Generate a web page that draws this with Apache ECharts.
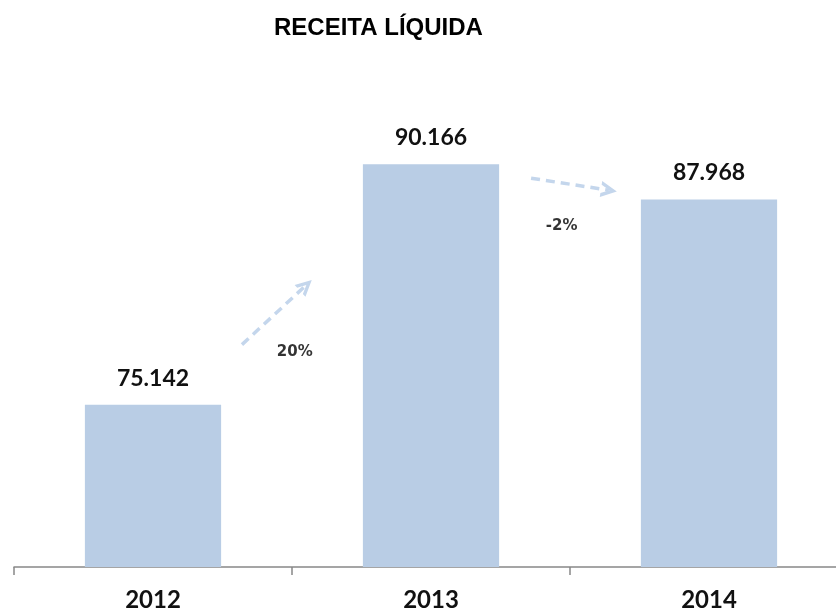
<!DOCTYPE html>
<html>
<head>
<meta charset="utf-8">
<script src="https://cdn.jsdelivr.net/npm/echarts@6/dist/echarts.min.js"></script>
<style>
  html, body { margin: 0; padding: 0; background: #fff; overflow: hidden; }
  #chart { width: 848px; height: 612px; }
</style>
</head>
<body>
<div id="chart"></div>
<script>
// dados do gráfico
const years = ['2012', '2013', '2014'];
const receita = [75.142, 90.166, 87.968];
const growthText = ['20%', '-2%'];
// setas de variação, em unidades do gráfico: [x0, y0, x1, y1]
const arrows = [
  [0.32, 78.9, 0.55, 82.6],
  [1.36, 89.3, 1.64, 88.55]
];
// posição dos rótulos de variação [x, y]
const growthPos = [
  [0.51, 78.4],
  [1.47, 86.3]
];

const barColor = '#B9CDE5';
const chart = echarts.init(document.getElementById('chart'));

const fmt = v => v.toFixed(3);

const option = {
  animation: false,
  title: {
    text: 'RECEITA LÍQUIDA',
    left: 269,
    top: 11,
    textStyle: {
      fontFamily: 'Liberation Sans, Arial',
      fontWeight: 'bold',
      fontSize: 24,
      color: '#000'
    }
  },
  grid: { left: 14, right: 0, top: 87, bottom: 44 },
  xAxis: [{
    type: 'category',
    data: years,
    axisLine: { lineStyle: { color: '#888', width: 1.5 } },
    axisTick: { show: true, length: 8, lineStyle: { color: '#888', width: 1.5 } },
    axisLabel: {
      margin: 21,
      fontFamily: 'Lato',
      fontWeight: 'bold',
      fontSize: 24,
      color: '#111'
    }
  }, {
    type: 'value',
    min: -0.5,
    max: 2.5,
    show: false
  }],
  yAxis: {
    type: 'value',
    min: 65,
    max: 95,
    show: false
  },
  series: [{
    type: 'bar',
    data: receita,
    barWidth: '49%',
    itemStyle: { color: barColor },
    label: {
      show: true,
      position: 'top',
      distance: 15,
      formatter: p => fmt(p.value),
      fontFamily: 'Lato',
      fontWeight: 'bold',
      fontSize: 23,
      color: '#111'
    }
  }, {
    type: 'lines',
    coordinateSystem: 'cartesian2d',
    xAxisIndex: 1,
    yAxisIndex: 0,
    symbol: ['none', 'path://M0,10 L5,0 L10,10 L7.6,10 L5,4.6 L2.4,10 Z'],
    symbolSize: [24, 16],
    lineStyle: { color: '#C4D6EC', width: 3.5, type: [9, 6], opacity: 1, curveness: 0 },
    data: arrows.map(a => ({ coords: [[a[0], a[1]], [a[2], a[3]]] }))
  }, {
    type: 'scatter',
    xAxisIndex: 1,
    yAxisIndex: 0,
    symbolSize: 0,
    data: growthPos.map((p, i) => [p[0], p[1], growthText[i]]),
    label: {
      show: true,
      position: 'inside',
      formatter: p => p.value[2],
      fontFamily: 'DejaVu Sans',
      fontWeight: 'bold',
      fontSize: 15,
      color: '#000'
    }
  }]
};

chart.setOption(option);
</script>
</body>
</html>
